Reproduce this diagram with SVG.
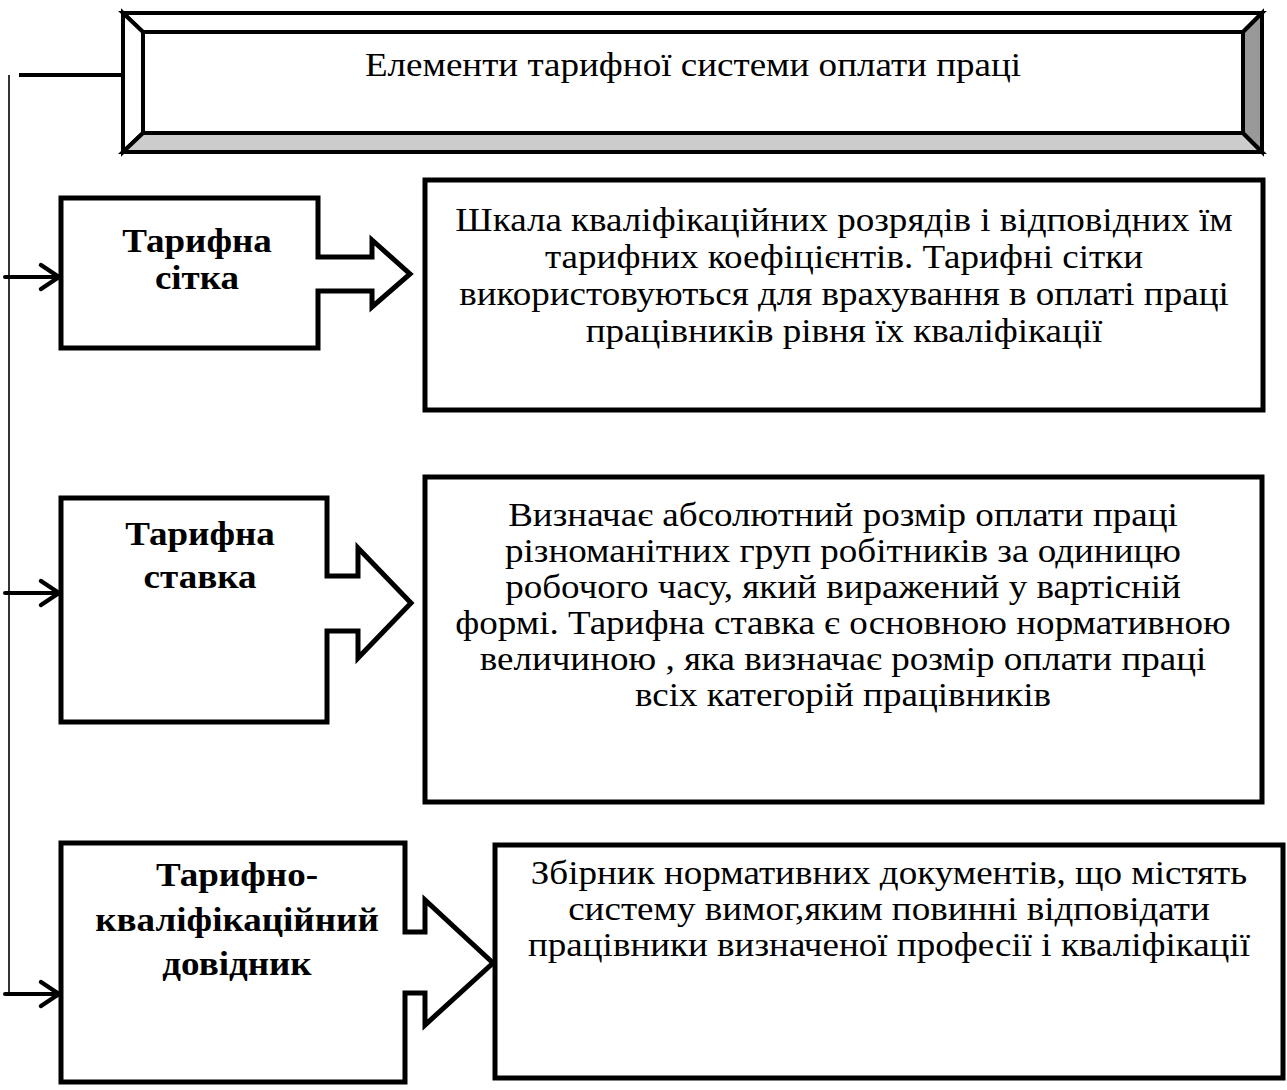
<svg xmlns="http://www.w3.org/2000/svg" width="1287" height="1090" viewBox="0 0 1287 1090">
<style>
.box{fill:#fff;stroke:#000;stroke-width:5;stroke-linejoin:miter}
.desc{fill:#fff;stroke:#000;stroke-width:5}
.bev{stroke:#000;stroke-width:4;stroke-linejoin:miter}
.t{font-family:"Liberation Serif","Times New Roman",serif;font-size:34px;fill:#000;text-anchor:middle}
.b{font-family:"Liberation Serif","Times New Roman",serif;font-size:34px;font-weight:bold;fill:#000;text-anchor:middle}
.ln{stroke:#000;fill:none;stroke-linecap:round;stroke-linejoin:round}
</style>
<rect width="1287" height="1090" fill="#fff"/>
<g id="title">
<polygon class="bev" points="123,13 1262,13 1243,32 143,32" fill="#fff"/>
<polygon class="bev" points="123,13 143,32 143,133 123,152" fill="#fff"/>
<polygon class="bev" points="123,152 143,133 1243,133 1262,152" fill="#ccc"/>
<polygon class="bev" points="1262,13 1262,152 1243,133 1243,32" fill="#999"/>
<rect class="bev" x="143" y="32" width="1100" height="101" fill="#fff"/>
<text class="t" transform="translate(693,76) scale(1.09,1)">Елементи тарифної системи оплати праці</text>
</g>
<g id="connectors">
<line class="ln" x1="9" y1="75" x2="9" y2="994" stroke-width="1.6" style="stroke-linecap:butt"/>
<line class="ln" x1="19" y1="75" x2="123" y2="75" stroke-width="4" style="stroke-linecap:butt"/>
<line class="ln" x1="5" y1="277" x2="59" y2="277" stroke-width="4"/>
<polyline class="ln" points="41,265 59,277 41,289" stroke-width="4.5"/>
<line class="ln" x1="5" y1="593" x2="59" y2="593" stroke-width="4"/>
<polyline class="ln" points="41,581 59,593 41,605" stroke-width="4.5"/>
<line class="ln" x1="5" y1="994" x2="59" y2="994" stroke-width="4"/>
<polyline class="ln" points="41,982 59,994 41,1006" stroke-width="4.5"/>
</g>
<g id="node1">
<path class="box" d="M61,198 H318 V257 H372 V240 L410,274 L372,307 V291 H318 V348 H61 Z"/>
<text class="b" transform="translate(197,252) scale(1.09,1)">Тарифна</text>
<text class="b" transform="translate(197,289) scale(1.09,1)">сітка</text>
</g>
<g id="desc1">
<rect class="desc" x="425" y="180" width="838" height="230"/>
<text class="t" transform="translate(844,231) scale(1.09,1)">Шкала кваліфікаційних розрядів і відповідних їм</text>
<text class="t" transform="translate(844,268) scale(1.09,1)">тарифних коефіцієнтів. Тарифні сітки</text>
<text class="t" transform="translate(844,305) scale(1.09,1)">використовуються для врахування в оплаті праці</text>
<text class="t" transform="translate(844,342) scale(1.09,1)">працівників рівня їх кваліфікації</text>
</g>
<g id="node2">
<path class="box" d="M61,498 H327 V576 H358 V548 L411,603 L358,658 V631 H327 V722 H61 Z"/>
<text class="b" transform="translate(200,545) scale(1.09,1)">Тарифна</text>
<text class="b" transform="translate(200,588) scale(1.09,1)">ставка</text>
</g>
<g id="desc2">
<rect class="desc" x="425" y="477" width="837" height="325"/>
<text class="t" transform="translate(843,526) scale(1.09,1)">Визначає абсолютний розмір оплати праці</text>
<text class="t" transform="translate(843,562) scale(1.09,1)">різноманітних груп робітників за одиницю</text>
<text class="t" transform="translate(843,598) scale(1.09,1)">робочого часу, який виражений у вартісній</text>
<text class="t" transform="translate(843,634) scale(1.09,1)">формі. Тарифна ставка є основною нормативною</text>
<text class="t" transform="translate(843,670) scale(1.09,1)">величиною , яка визначає розмір оплати праці</text>
<text class="t" transform="translate(843,706) scale(1.09,1)">всіх категорій працівників</text>
</g>
<g id="node3">
<path class="box" d="M61,843 H405 V932 H425 V900 L493,963 L425,1025 V993 H405 V1082 H61 Z"/>
<text class="b" transform="translate(237,886) scale(1.09,1)">Тарифно-</text>
<text class="b" transform="translate(237,931) scale(1.09,1)">кваліфікаційний</text>
<text class="b" transform="translate(237,975) scale(1.09,1)">довідник</text>
</g>
<g id="desc3">
<rect class="desc" x="495" y="845" width="788" height="233"/>
<text class="t" transform="translate(889,884) scale(1.09,1)">Збірник нормативних документів, що містять</text>
<text class="t" transform="translate(889,920) scale(1.09,1)">систему вимог,яким повинні відповідати</text>
<text class="t" transform="translate(889,956) scale(1.09,1)">працівники визначеної професії і кваліфікації</text>
</g>
</svg>
